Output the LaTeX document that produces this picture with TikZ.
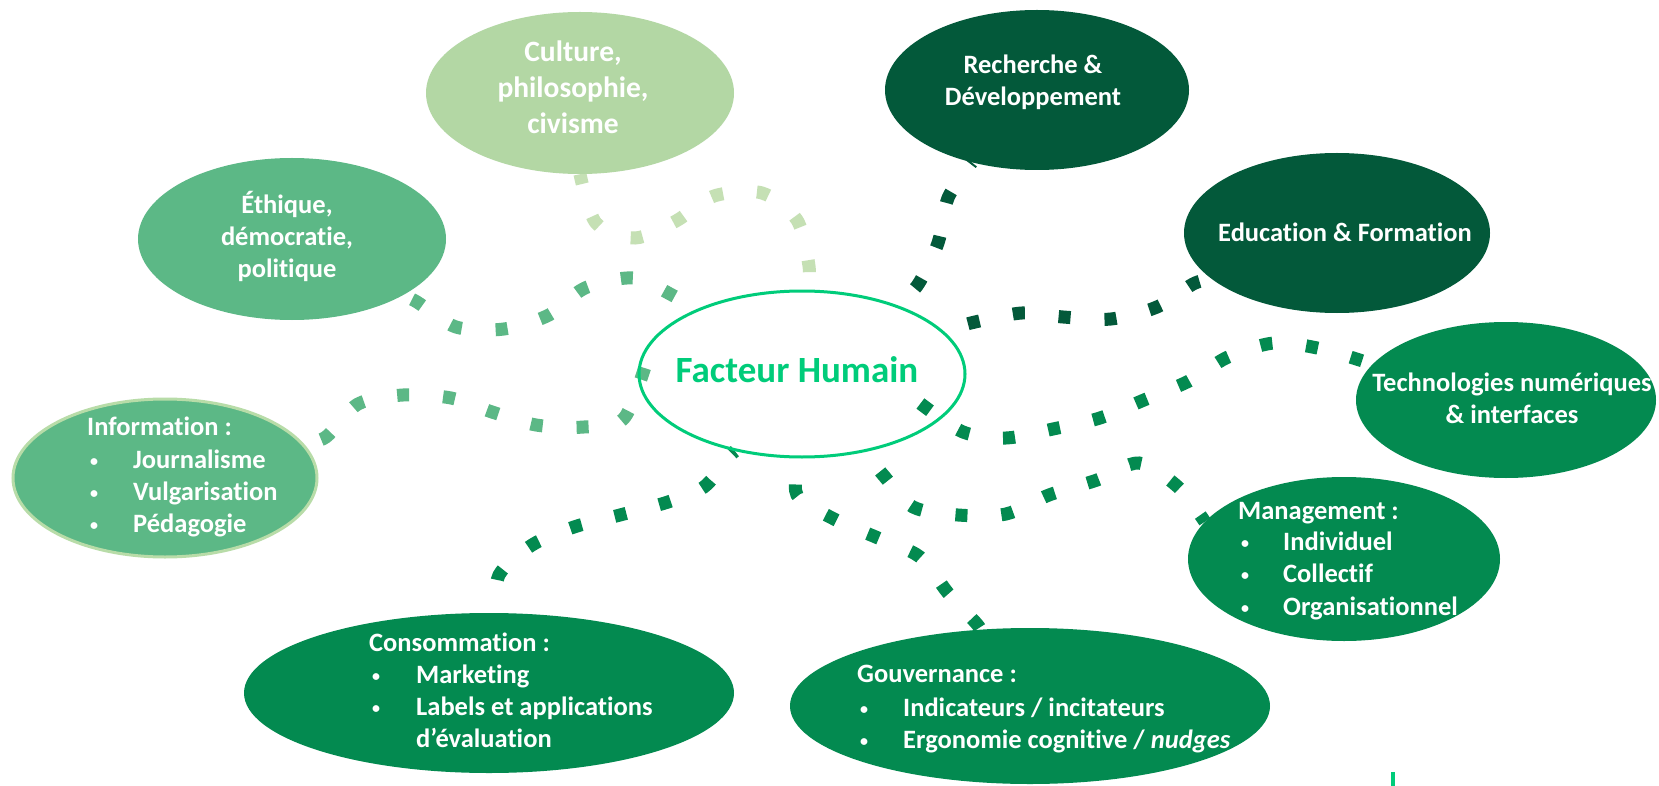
\documentclass[tikz,border=0pt]{standalone}
\usepackage{fontspec}
\setmainfont{Carlito}[Ligatures=NoCommon]
\usetikzlibrary{shapes.geometric,calc,backgrounds}
\definecolor{cultfill}{HTML}{B3D7A4}
\definecolor{cultdot}{HTML}{C5E0B4}
\definecolor{midgreen}{HTML}{5CB886}
\definecolor{infoborder}{HTML}{B8DCA8}
\definecolor{darkgreen}{HTML}{03593A}
\definecolor{medgreen}{HTML}{038A50}
\definecolor{fhgreen}{HTML}{00CC7A}
\newcommand\mybul[1]{\makebox[#1][l]{\raisebox{1.5pt}{\fontsize{16}{16}\selectfont •}}}
\begin{document}
\begin{tikzpicture}[x=1pt,y=-1pt,
  bubble/.style={ellipse, inner sep=0pt, draw=none},
  ttl/.style={text=white, font=\bfseries\fontsize{26.5}{32}\selectfont, align=center, inner sep=0pt},
  lst/.style={text=white, font=\bfseries\fontsize{26.5}{32}\selectfont, inner sep=0pt, anchor=base west},
  dotline/.style={line width=13pt, dash pattern=on 12pt off 34pt}]
\useasboundingbox (0,0) rectangle (1659,786);

% ellipses
\node[bubble, fill=cultfill, minimum width=308pt, minimum height=162pt] (culture) at (580,93) {};
\node[bubble, fill=midgreen, minimum width=308pt, minimum height=162pt] (ethique) at (292,239) {};
\node[bubble, fill=midgreen, draw=infoborder, line width=3pt, minimum width=304pt, minimum height=158pt] (info) at (165,478) {};
\node[bubble, fill=darkgreen, minimum width=304pt, minimum height=160pt] (rech) at (1037,90) {};
\node[bubble, fill=darkgreen, minimum width=306pt, minimum height=160pt] (edu) at (1337,233) {};
\node[bubble, fill=medgreen, minimum width=300pt, minimum height=156pt] (tech) at (1506,400) {};
\node[bubble, fill=medgreen, minimum width=312pt, minimum height=164pt] (mgmt) at (1344,559) {};
\node[bubble, fill=medgreen, minimum width=480pt, minimum height=156pt] (gouv) at (1030,706) {};
\node[bubble, fill=medgreen, minimum width=490pt, minimum height=160pt] (consom) at (489,693) {};
\node[ellipse, inner sep=0pt, draw=fhgreen, line width=3pt, minimum width=326pt, minimum height=166pt] (fh) at (802,374) {};

% texts
\node[ttl, font=\bfseries\fontsize{29.5}{36}\selectfont] (culturetxt) at (573,87) {Culture,\\philosophie,\\civisme};
\node[ttl] (ethiquetxt) at (287,236) {Éthique,\\démocratie,\\politique};
\node[ttl] (rechtxt) at (1033,82) {Recherche \&\\Développement};
\node[ttl] (edutxt) at (1345,232) {Education \& Formation};
\node[ttl] (techtxt) at (1512,398) {Technologies numériques\\\& interfaces};
\node[inner sep=0pt, text=fhgreen, font=\bfseries\fontsize{37}{44}\selectfont] (fhtxt) at (797,370) {Facteur Humain};

\node[lst] (info0) at (87,435) {Information :};
\node[lst] (info1) at (90,468) {\mybul{43pt}Journalisme};
\node[lst] (info2) at (90,500) {\mybul{43pt}Vulgarisation};
\node[lst] (info3) at (90,532) {\mybul{43pt}Pédagogie};

\node[lst] (mgmt0) at (1238,519) {Management :};
\node[lst] (mgmt1) at (1241,550) {\mybul{42pt}Individuel};
\node[lst] (mgmt2) at (1241,582) {\mybul{42pt}Collectif};
\node[lst] (mgmt3) at (1241,615) {\mybul{42pt}Organisationnel};

\node[lst] (consom0) at (369,651) {Consommation :};
\node[lst] (consom1) at (372,683) {\mybul{44pt}Marketing};
\node[lst] (consom2) at (372,715) {\mybul{44pt}Labels et applications};
\node[lst] (consom3) at (416,747) {d’évaluation};

\node[lst] (gouv0) at (857,682) {Gouvernance :};
\node[lst] (gouv1) at (860,716) {\mybul{43pt}Indicateurs / incitateurs};
\node[lst] (gouv2) at (860,748) {\mybul{43pt}Ergonomie cognitive / \textit{nudges}};

\coordinate (techstart) at ($(fh.center)!0.80!(fh.346)$);

\begin{scope}[on background layer]
\fill[white] (0,0) rectangle (1659,786);
\draw[dotline, cultdot, dash phase=2pt] plot[smooth] coordinates {(culture.south) (596,223) (635,238) (676,221) (714,196) (762,193) (797,220) (809,266) (fh.86)};
\draw[dotline, midgreen, dash phase=36pt] plot[smooth] coordinates {(ethique.-27) (417,302) (456,327) (504,329) (549,315) (585,288) (633,278) (672,295) (fh.149)};
\draw[dotline, midgreen, dash phase=28pt] plot[smooth] coordinates {(info.14) (326,437) (358,404) (403,395) (451,398) (492,412) (536,425) (584,427) (625,417) (fh.166)};
\draw[dotline, medgreen, dash phase=13pt] plot[smooth] coordinates {(consom.85) (499,575) (532,545) (574,527) (620,515) (668,502) (704,487) (729,457) (fh.229)};
\draw[dotline, medgreen, dash phase=44pt] plot[smooth] coordinates {(gouv.123) (976,623) (948,593) (920,557) (878,538) (834,519) (797,495) (fh.268)};
\draw[dotline, medgreen, dash phase=4pt] plot[smooth] coordinates {(mgmt.165) (1178,487) (1139,463) (1097,480) (1049,495) (1006,514) (958,515) (913,507) (884,476) (fh.309)};
\draw[dotline, medgreen, dash phase=0pt] plot[smooth] coordinates {(techstart) (963,432) (1006,438) (1053,429) (1100,418) (1144,400) (1189,381) (1228,357) (1274,343) (1322,349) (tech.165)};
\draw[dotline, darkgreen, dash phase=10pt] plot[smooth] coordinates {(rech.228) (948,198) (938,243) (917,286) (fh.37)};
\draw[dotline, darkgreen, dash phase=34pt] plot[smooth] coordinates {(edu.200) (1193,284) (1157,307) (1111,319) (1063,317) (1022,313) (975,322) (fh.17)};
\end{scope}

\draw[fhgreen, line width=4pt] (1393,772) -- (1393,786);
\end{tikzpicture}
\end{document}
